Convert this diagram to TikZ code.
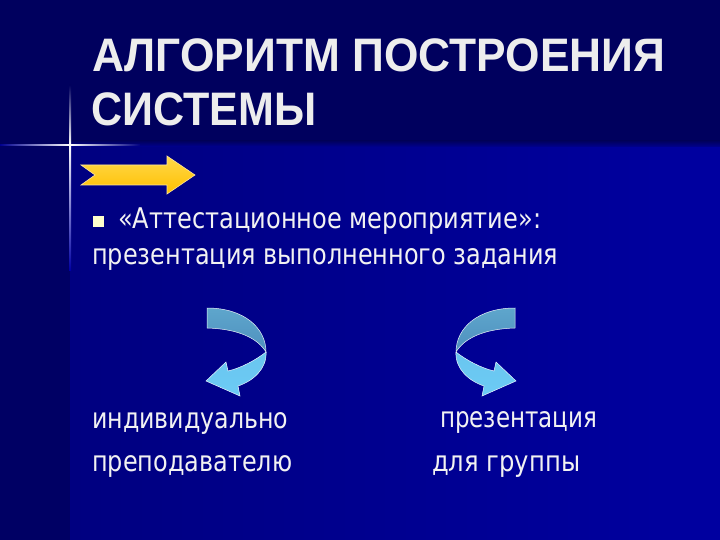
\documentclass[tikz,border=0pt]{standalone}
\usepackage{fontspec}
\usepackage{graphicx}
\setmainfont{DejaVu Sans}
\newfontfamily\titlefont{Liberation Sans}
\definecolor{bgdark}{HTML}{00005E}
\definecolor{bgleft}{HTML}{000064}
\definecolor{mainL}{HTML}{000080}
\definecolor{mainR}{HTML}{0000A0}
\definecolor{titlec}{HTML}{EDEDED}
\definecolor{bodyc}{HTML}{F2F2F2}
\definecolor{gold}{HTML}{FFC000}
\definecolor{goldlt}{HTML}{FFD84A}
\definecolor{ribdark}{HTML}{5EA6CC}
\definecolor{ribdark2}{HTML}{4E90BE}
\definecolor{riblight}{HTML}{6CCBF5}
\definecolor{bulletc}{HTML}{FFFFCC}
\tikzset{
  titletext/.style={inner sep=0pt, text=titlec, font=\titlefont\bfseries\fontsize{47}{56}\selectfont},
  bodytext/.style={inner sep=0pt, text=bodyc, font=\fontsize{28.5}{34}\selectfont},
  ribtop/.style={top color=ribdark, bottom color=ribdark2, draw=white!85!ribdark, line width=0.5pt},
  ribbot/.style={top color=riblight!85!ribdark, bottom color=riblight, draw=white!85!riblight, line width=0.5pt},
  goldarrow/.style={top color=goldlt, bottom color=gold, draw=white!60!gold, line width=0.6pt}
}
\newcommand{\myribbon}{%
  \path[ribtop] (207,308) .. controls (244,308) and (266,328) .. (266,352)
     .. controls (258,339) and (240,329) .. (207,328) -- cycle;
  \path[ribbot] (266,352) .. controls (267,369) and (253,381) .. (238,386)
     -- (240,396) -- (206,381) -- (226,362) -- (228,371)
     .. controls (241,368) and (256,360) .. (266,352) -- cycle;
}
\begin{document}
\begin{tikzpicture}[x=1pt,y=-1pt]
\useasboundingbox (0,0) rectangle (720,540);
% background
\fill[bgdark] (0,0) rectangle (720,540);
\fill[bgleft] (0,145) rectangle (70,540);
\shade[left color=mainL, right color=mainR] (70,145) rectangle (720,540);
\shade[top color=bgdark, bottom color=mainL!50!mainR] (70,141) rectangle (720,147);
% star lines
\shade[left color=bgdark!70!blue, right color=white] (0,144.2) rectangle (70,146);
\shade[left color=white, right color=mainL] (70,144.2) rectangle (140,146);
\shade[top color=bgdark, bottom color=white] (69.2,85) rectangle (71,145);
\shade[top color=white, bottom color=bgleft!60!blue] (69.2,145) rectangle (71,270);
\fill[white] (70,145) circle (1.6);
% title
\node[titletext, anchor=base west] (t1) at (92,72) {\resizebox{573pt}{\height}{АЛГОРИТМ ПОСТРОЕНИЯ}};
\node[titletext, anchor=base west] (t2) at (91,126) {\resizebox{225pt}{\height}{СИСТЕМЫ}};
% yellow arrow
\path[goldarrow] (81,165) -- (167,165) -- (167,156) -- (195,175) -- (167,194) -- (167,185) -- (81,185) -- (95,175) -- cycle;
% bullet
\fill[bulletc] (93,216) rectangle (104,227);
% body text
\node[bodytext, anchor=base west] (l1) at (118,228) {\resizebox{423pt}{\height}{«Аттестационное мероприятие»:}};
\node[bodytext, anchor=base west] (l2) at (92,264) {\resizebox{466pt}{\height}{презентация выполненного задания}};
% curved arrows
\myribbon
\begin{scope}[xshift=722pt, xscale=-1]
\myribbon
\end{scope}
% lower texts
\node[bodytext, anchor=base west] (a1) at (92,428) {\resizebox{196pt}{\height}{индивидуально}};
\node[bodytext, anchor=base west] (a2) at (92,471) {\resizebox{200pt}{\height}{преподавателю}};
\node[bodytext, anchor=base west] (b1) at (440,427) {\resizebox{157pt}{\height}{презентация}};
\node[bodytext, anchor=base west] (b2) at (432,471) {\resizebox{148pt}{\height}{для группы}};
\end{tikzpicture}
\end{document}
